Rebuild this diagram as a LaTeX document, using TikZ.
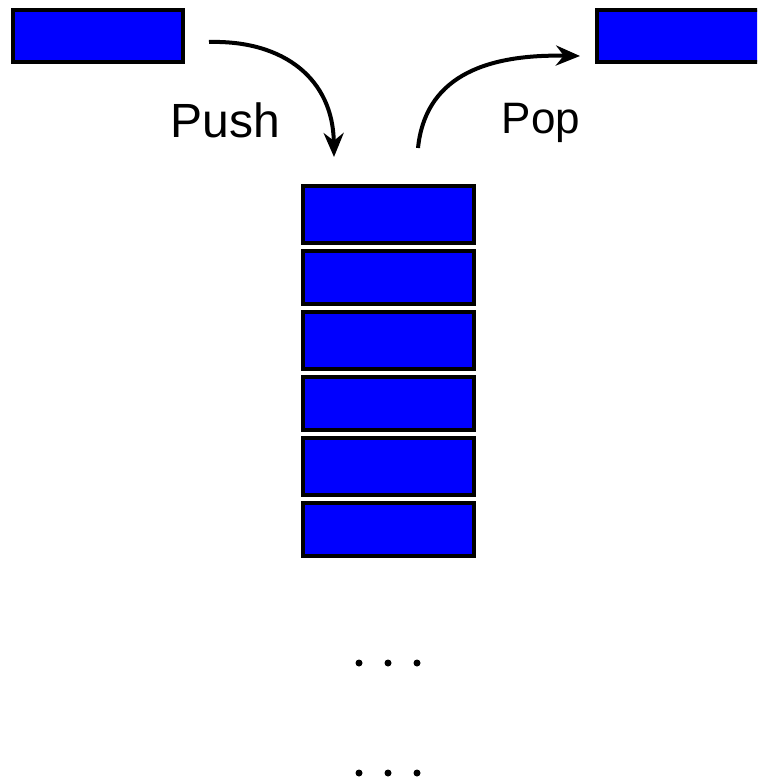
\documentclass[tikz,border=0pt]{standalone}
\usepackage{fontspec}
\setmainfont{Liberation Sans}
\usetikzlibrary{arrows.meta}
\definecolor{boxblue}{RGB}{0,0,255}
\tikzset{
  blk/.style={draw=black, fill=boxblue, line width=4pt, rectangle, inner sep=0pt,
              minimum width=171pt, minimum height=52pt, anchor=north west},
  curv/.style={line width=4pt, -{Stealth[length=24pt, width=20pt]}},
  lbl/.style={font=\fontsize{48}{48}\selectfont, inner sep=0pt, anchor=base},
  dot/.style={circle, fill=black, inner sep=0pt, minimum size=7pt}
}
\begin{document}
\begin{tikzpicture}[x=1pt, y=-1pt]
\useasboundingbox (0,0) rectangle (757,781);
\clip (0,0) rectangle (757,781);
\fill[white] (0,0) rectangle (757,781);
% top boxes
\node[blk, minimum width=170pt] (inbox) at (11,8) {};
\node[blk, minimum width=180pt] (outbox) at (595,8) {};
% stack
\node[blk, minimum height=57pt] (s1) at (301,184) {};
\node[blk, minimum height=53pt] (s2) at (301,249) {};
\node[blk, minimum height=57pt] (s3) at (301,310) {};
\node[blk, minimum height=53pt] (s4) at (301,375) {};
\node[blk, minimum height=57pt] (s5) at (301,436) {};
\node[blk, minimum height=53pt] (s6) at (301,501) {};
% arrow anchors
\coordinate (pushstart) at (209,42);
\coordinate (pushend) at (334,157);
\coordinate (popstart) at (418,148);
\coordinate (popend) at (580,56);
\draw[curv] (pushstart) .. controls (285,40) and (333,80) .. (pushend);
\draw[curv] (popstart) .. controls (425,80) and (480,54) .. (popend);
% labels
\node[lbl] (push) at (225,137) {Push};
\node[lbl, font=\fontsize{44}{44}\selectfont] (pop) at (541,133) {Pop};
% dots
\node[dot] (d1) at (359,663) {};
\node[dot] (d2) at (388,663) {};
\node[dot] (d3) at (417,663) {};
\node[dot] (d4) at (359,773) {};
\node[dot] (d5) at (388,773) {};
\node[dot] (d6) at (417,773) {};
\end{tikzpicture}
\end{document}
